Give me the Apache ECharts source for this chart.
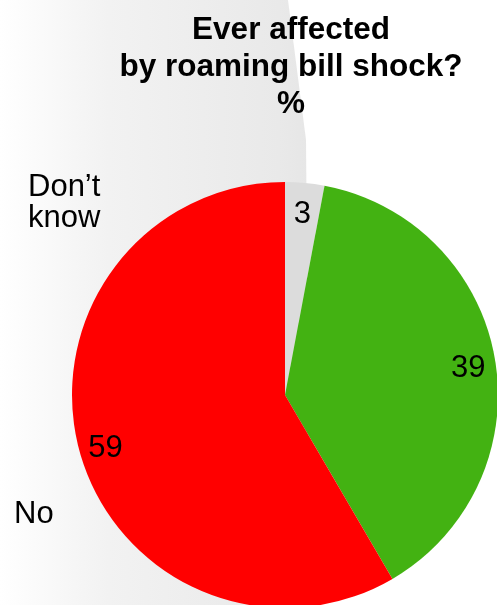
<!DOCTYPE html>
<html>
<head>
<meta charset="utf-8">
<script src="https://cdn.jsdelivr.net/npm/echarts@6/dist/echarts.min.js"></script>
<style>
  html, body { margin: 0; padding: 0; background: #fff; }
  #chart { width: 497px; height: 605px; }
</style>
</head>
<body>
<div id="chart"></div>
<script>
// values, clockwise from 12 o'clock
const categories = ['Don\u2019t know', 'Yes', 'No'];
const values = [3, 39, 59];
const colors = ['#dcdcdc', '#43b212', '#ff0000'];
const titleLines = ['Ever affected', 'by roaming bill shock?', '%'];

const font = 'Liberation Sans, Arial, Helvetica, sans-serif';
const cx = 285, cy = 395, R = 213;

const chart = echarts.init(document.getElementById('chart'), null, { renderer: 'canvas' });

const pieData = categories.map((name, i) => ({
  name,
  value: values[i],
  itemStyle: { color: colors[i] }
}));

chart.setOption({
  animation: false,
  backgroundColor: '#fff',
  title: {
    text: titleLines.join('\n'),
    left: 286,
    top: 7,
    textAlign: 'center',
    textStyle: {
      fontFamily: font,
      fontSize: 31.5,
      fontWeight: 'bold',
      color: '#000',
      lineHeight: 37
    }
  },
  graphic: [
    {
      // page-curl style shading behind the pie
      type: 'polygon',
      z: -1,
      silent: true,
      shape: { points: [[0, 0], [288, 0], [306, 140], [310, 605], [0, 605]] },
      style: {
        fill: new echarts.graphic.LinearGradient(0, 0, 1, 0, [
          { offset: 0, color: '#ffffff' },
          { offset: 0.35, color: '#f2f2f2' },
          { offset: 0.9, color: '#e9e9e9' },
          { offset: 1, color: '#e6e6e6' }
        ])
      }
    },
    {
      type: 'text',
      left: 28,
      top: 172,
      style: {
        text: categories[0].replace(' ', '\n'),
        font: '31px ' + font,
        fill: '#000',
        lineHeight: 31
      }
    },
    {
      type: 'text',
      left: 14,
      top: 499,
      style: {
        text: categories[2],
        font: '31px ' + font,
        fill: '#000'
      }
    }
  ],
  series: [
    {
      type: 'pie',
      center: [cx, cy],
      radius: [0, R],
      startAngle: 90,
      clockwise: true,
      silent: true,
      label: { show: false },
      labelLine: { show: false },
      data: pieData
    },
    {
      // transparent ring that only carries the value labels near the rim
      type: 'pie',
      center: [cx, cy],
      radius: [153, R],
      startAngle: 90,
      clockwise: true,
      silent: true,
      itemStyle: { color: 'rgba(0,0,0,0)' },
      label: {
        show: true,
        position: 'inside',
        formatter: '{c}',
        offset: [0, 5],
        fontFamily: font,
        fontSize: 31,
        color: '#000'
      },
      labelLine: { show: false },
      data: categories.map((name, i) => ({ name, value: values[i] }))
    }
  ]
});
</script>
</body>
</html>
